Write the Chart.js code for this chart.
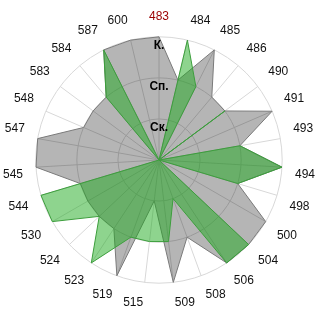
<!DOCTYPE html>
<html>
<head>
<meta charset="utf-8">
<script src="https://cdn.jsdelivr.net/npm/chart.js@4"></script>
<style>
html,body{margin:0;padding:0;background:#fff;}
#wrap{width:320px;height:320px;}
</style>
</head>
<body>
<div id="wrap"><canvas id="c" width="320" height="320"></canvas></div>
<script>
const categories = ['483','484','485','486','490','491','493','494','498','500','504','506','508','509','515','519','523','524','530','544','545','547','548','583','584','587','600'];
const greySeries = [3,2,3,2,2,3,2,3,2,3,3,3,2,3,1,3,2,2,2,2,3,3,2,2,2,3,3];
const greenSeries = [0,3,2,0,2,0,2,3,2,0,3,3,1,2,2,2,3,2,3,3,0,0,0,0,2,3,0];
const tickLabels = ['', 'Ск.', 'Сп.', 'К.'];
const highlightedCategory = '483';

new Chart(document.getElementById('c'), {
  type: 'radar',
  data: {
    labels: categories,
    datasets: [
      {
        data: greySeries,
        backgroundColor: 'rgba(0,0,0,0.29)',
        borderColor: '#7a7a7a',
        borderWidth: 1,
        pointRadius: 0,
        order: 2
      },
      {
        data: greenSeries,
        backgroundColor: 'rgba(30,170,30,0.5)',
        borderColor: '#3c9e3c',
        borderWidth: 1,
        pointRadius: 0,
        order: 1
      }
    ]
  },
  options: {
    responsive: false,
    animation: false,
    devicePixelRatio: 1,
    layout: { padding: 4 },
    plugins: { legend: { display: false }, tooltip: { enabled: false } },
    elements: { line: { tension: 0 } },
    scales: {
      r: {
        min: 0,
        max: 3,
        grid: { circular: true, color: '#d8d8d8', lineWidth: 1 },
        angleLines: { color: '#d8d8d8', lineWidth: 1 },
        ticks: {
          stepSize: 1,
          z: 1,
          showLabelBackdrop: false,
          color: '#000',
          font: { family: 'Liberation Sans', size: 12, weight: 'bold', lineHeight: '9px' },
          callback: (v) => ['', tickLabels[v] || '']
        },
        pointLabels: {
          padding: 5,
          font: { family: 'Liberation Sans', size: 12 },
          color: (ctx) => categories[ctx.index] === highlightedCategory ? '#9b0000' : '#111'
        }
      }
    }
  }
});
</script>
</body>
</html>
